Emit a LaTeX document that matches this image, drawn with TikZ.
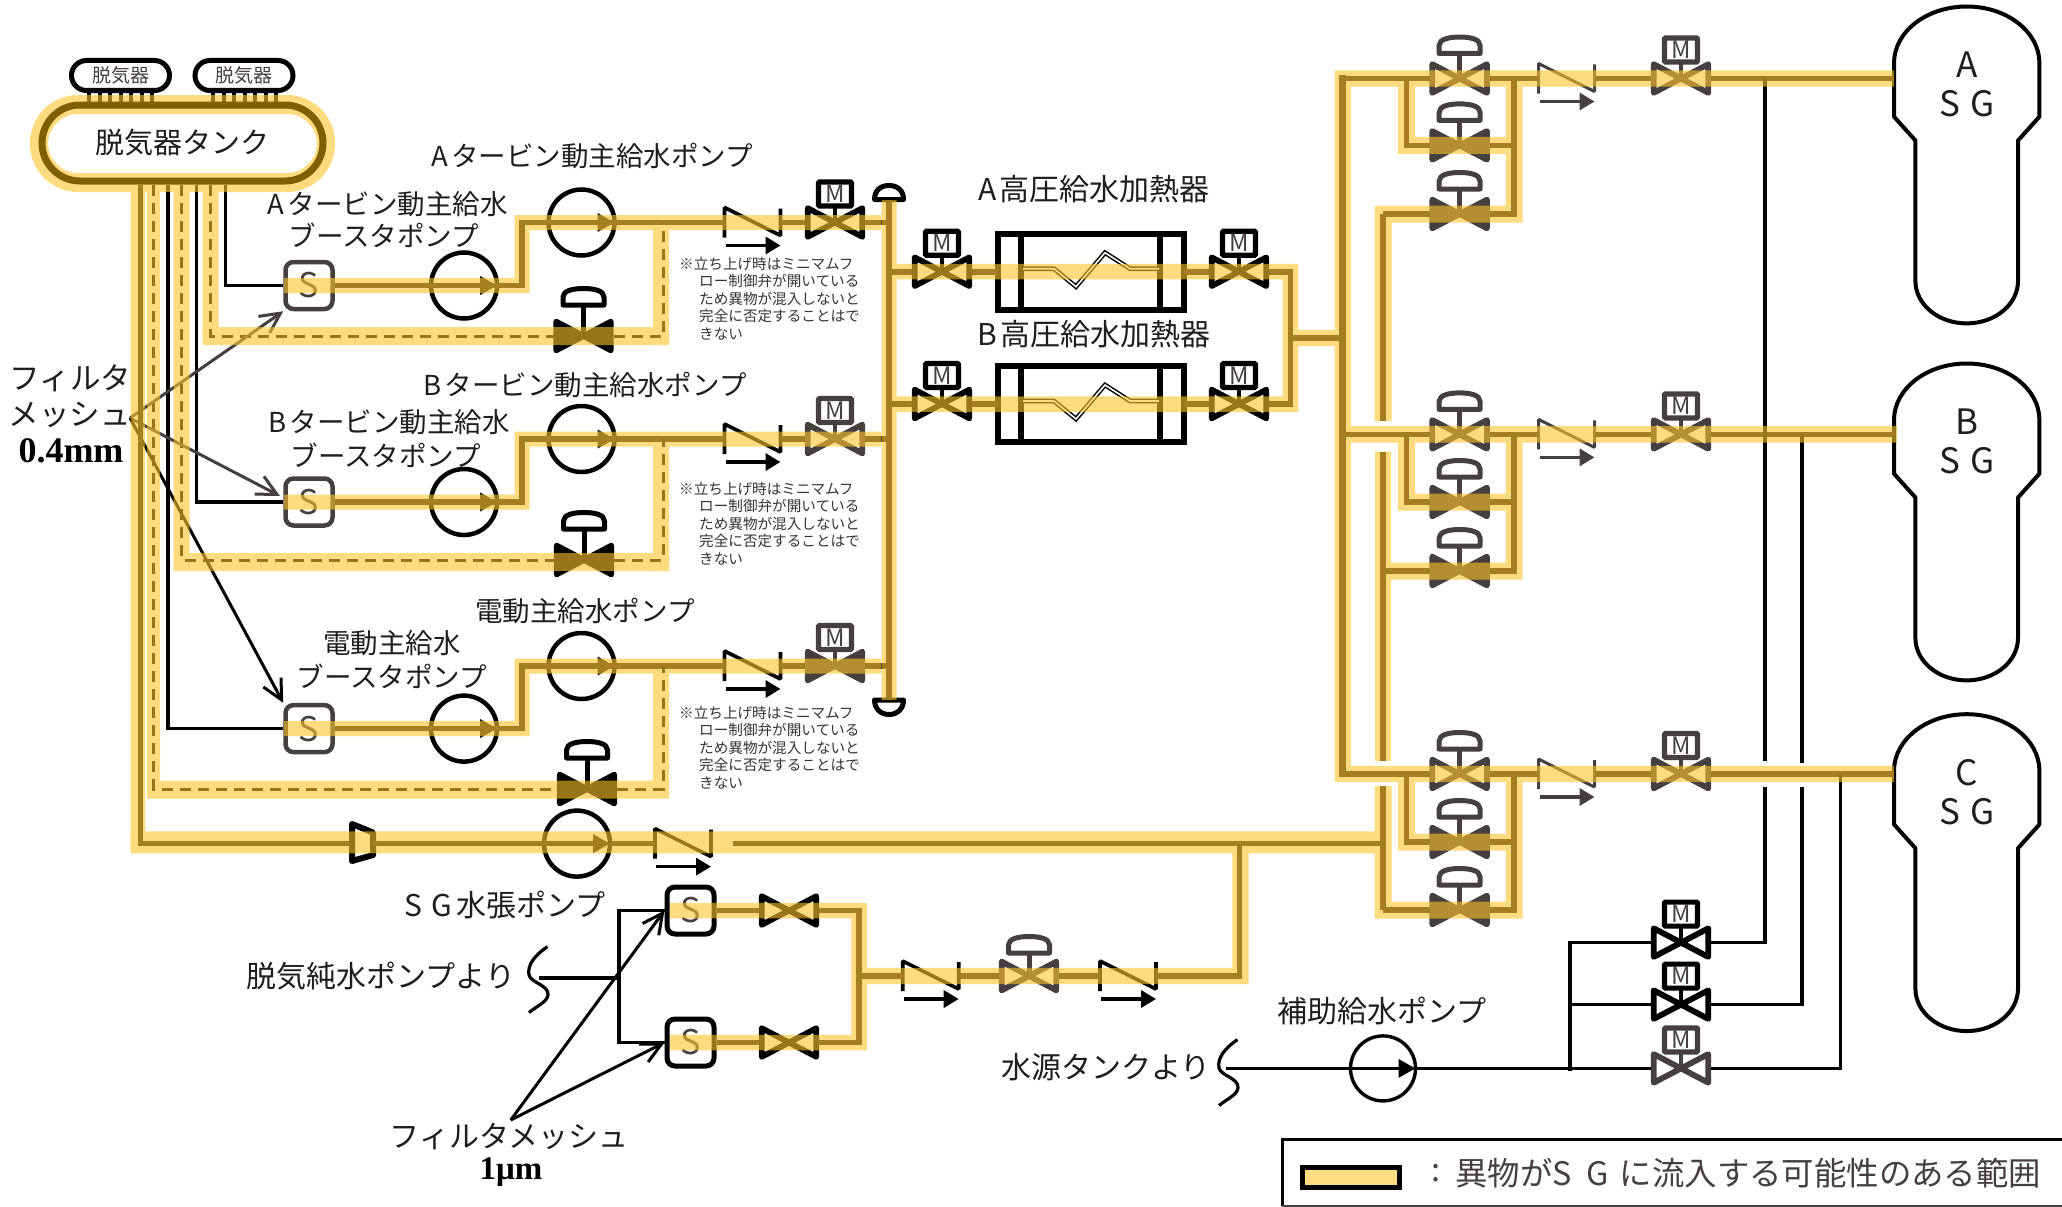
\documentclass[tikz,border=0pt]{standalone}
\usepackage{fontspec}
\setmainfont{Noto Sans CJK JP}
\newfontfamily\serifbold{Liberation Serif}
\usetikzlibrary{arrows.meta,calc}
\definecolor{gr}{HTML}{463F3F}
\definecolor{bandy}{HTML}{FFC32A}
\definecolor{swatchy}{HTML}{FFDC7F}
\definecolor{txt}{HTML}{1E1E1E}
\definecolor{pipec}{HTML}{201B0F}
\definecolor{tankc}{HTML}{7F6000}
\tikzset{
 x=1pt,y=-1pt,
 pipe/.style={line width=5.6,draw=pipec,line cap=butt},
 thinpipe/.style={line width=3.6,draw=black},
 dashpipe/.style={line width=3,draw=black,dash pattern=on 11pt off 7pt},
 band/.style={draw=bandy,line width=16.4,line join=miter},
 lab/.style={font=\fontsize{27.5}{30}\selectfont,text=txt,inner sep=0},
 labb/.style={font=\fontsize{30}{32}\selectfont,text=txt,inner sep=0},
 notetxt/.style={font=\fontsize{14.6}{17.5}\selectfont,text=black!80,inner sep=0,align=left,anchor=north west},
 spump/.style={draw=#1,rounded corners=8pt,fill=white,line width=4.5,minimum width=47,minimum height=47,inner sep=0,text=gr,font=\fontsize{34}{34}\selectfont},
 pumpc/.style={circle,draw=black,line width=4.5,minimum size=66,inner sep=0,outer sep=0},
 anch/.style={inner sep=0,outer sep=0,minimum width=#1,minimum height=1},
 tri/.style={-{Triangle[length=17pt,width=18pt]}},
 trismall/.style={-{Triangle[length=15pt,width=17pt]}},
 barb/.style={-{Straight Barb[length=20pt,width=20pt]},line width=3},
 hx/.style={draw=black,line width=6,minimum width=186,minimum height=76,inner sep=0,outer sep=0},
 sgtxt/.style={font=\fontsize{35}{35}\selectfont,text=txt,inner sep=0},
}
% valve: name,x,y,colour,fill
\newcommand\vbody[5]{%
 \node[anch=60] (#1) at (#2,#3) {};
 \begin{scope}[shift={(#2,#3)}]
 \draw[line width=5.8,line join=round,draw=#4,fill=#5] (-27.3,-14.3) -- (-27.3,14.3) -- (0,0) -- cycle;
 \draw[line width=5.8,line join=round,draw=#4,fill=#5] (27.3,-14.3) -- (27.3,14.3) -- (0,0) -- cycle;
 \end{scope}}
\newcommand\vM[5]{\vbody{#1}{#2}{#3}{#4}{#5}%
 \begin{scope}[shift={(#2,#3)}]
 \draw[line width=4.5,draw=#4] (0,0) -- (0,-18);
 \draw[line width=5.2,draw=#4,fill=white,rounded corners=1pt] (-16.5,-40.5) rectangle (16.5,-16.5);
 \node[inner sep=0,text=gr,font=\fontsize{24}{24}\selectfont] (#1M) at (0,-28.5) {M};
 \end{scope}}
\newcommand\vD[6]{\vbody{#1}{#2}{#3}{#4}{#5}%
 \begin{scope}[shift={(#2,#3)}]
 \draw[line width=5,draw=#4] (0,0) -- (0,-#6+19);
 \draw[line width=5,draw=#4,fill=white,line join=round] (-20.5,-#6+19) -- (20.5,-#6+19) -- (20.5,-#6+11) .. controls (20.5,-#6+4.5) and (10,-#6+2.5) .. (0,-#6+2.5) .. controls (-10,-#6+2.5) and (-20.5,-#6+4.5) .. (-20.5,-#6+11) -- cycle;
 \end{scope}}
% check valve: name,x,y,colour,width of stroke
\newcommand\cv[5]{%
 \node[anch=56] (#1) at (#2,#3) {};
 \begin{scope}[shift={(#2,#3)}]
 \draw[line width=#5,draw=#4,line join=bevel] (-28,15) -- (-28,-15) -- (28,13) -- (28,-14);
 \draw[trismall,line width=3.6,draw=#4,fill=#4] (-27,23) -- (28,23);
 \end{scope}}
% feed rows
\newcommand\feedrow[9]{% tag,yup,ylow,ybypass,xdash,xblack,xbp,Mcol,closed/open fill
 \node[spump=gr] (s#1) at (309,#3) {S};
 \node[pumpc] (pl#1) at (464,#3) {};
 \node[pumpc] (pu#1) at (581.5,#2) {};
 \coordinate (bl#1) at (522,#3);
 \coordinate (bu#1) at (522,#2);
 \cv{cv#1}{752.5}{#2}{black}{3.6}
 \vM{vm#1}{835}{#2}{#8}{#9}
 \vD{vb#1}{#7}{#4}{black}{black}{50}
 \coordinate (td#1) at (#5,185);
 \coordinate (tk#1) at (#6,185);
 \coordinate (jd#1) at (663,#2);
 \coordinate (jh#1) at (889,#2);
 \draw[pipe] (s#1.east) -- (bl#1);
 \draw[pipe,tri] (s#1.east) -- (pl#1.east);
 \draw[pipe] (pl#1.east) -- (bl#1) -- (bu#1) -- (pu#1.east);
 \draw[pipe,tri] (bu#1) -- (pu#1.east);
 \draw[pipe] (pu#1.east) -- (cv#1.west);
 \draw[pipe] (cv#1.east) -- (vm#1.west);
 \draw[pipe] (vm#1.east) -- (jh#1);
 \draw[thinpipe] (tk#1) |- (s#1.west);
 \draw[dashpipe] (td#1) |- (vb#1.west);
 \draw[dashpipe] (vb#1.east) -| (jd#1);
}
\newcommand\feedband[6]{% yup,ylow,ybypass,xdash,wdash,tag
 \draw[band,line width=15] (284,#2) -| (522,#1) -- (881,#1);
 \draw[band,line width=#5] (#4,190) -- (#4,#3);
 \draw[band,line width=18] ($(#4,#3)-(#5/2,0)$) -- (661,#3);
 \draw[band,line width=16] (661,#3+9) -- (661,#1+7);
}
% heater row
\newcommand\hxrow[2]{% tag,y
 \node[hx] (hx#1) at (1091,#2) {};
 \vM{vhl#1}{942}{#2}{black}{white}
 \vM{vhr#1}{1239}{#2}{black}{white}
 \coordinate (jhx#1) at (889,#2);
 \begin{scope}[shift={(0,#2)}]
 \draw[line width=6] (1020.5,-38) -- (1020.5,38);
 \draw[line width=6] (1160,-38) -- (1160,38);
 \draw[line width=4.6,line join=miter] (1023,-3) -- (1054,-3) -- (1076,15) -- (1105,-19) -- (1130,-3) -- (1159,-3);
 \draw[line width=1.6,white,line join=miter] (1023,-3) -- (1054,-3) -- (1076,15) -- (1105,-19) -- (1130,-3) -- (1159,-3);
 \end{scope}
 \draw[pipe] (jhx#1) -- (vhl#1.west);
 \draw[pipe] (vhl#1.east) -- (hx#1.west);
 \draw[pipe] (hx#1.east) -- (vhr#1.west);
 \draw[pipe] (vhr#1.east) -| (jhb);
}
% SG vessel
\newcommand\sgvessel[4]{% tag,dy,letter,yrow
 \begin{scope}[shift={(0,#2)}]
 \draw[line width=4,line join=round] (1894,116.7) -- (1894,63) arc[start angle=180,end angle=360,x radius=72.7,y radius=56.5] -- (2039.4,116.7) -- (2018,140.5) -- (2018,281) arc[start angle=0,end angle=180,x radius=51.3,y radius=42.4] -- (1915.4,140.5) -- cycle;
 \node[sgtxt] (sgl#1) at (1967,65) {#3};
 \node[sgtxt] (sgn#1) at (1967,104) {S\hspace{.3em}G};
 \end{scope}
 \coordinate (sg#1) at (1894,#4);
}
% SG branch
\newcommand\sgrow[5]{% tag,y1,y2,y3,Mfill
 \vD{va#1}{1459.6}{#2}{gr}{white}{44}
 \vD{vc#1}{1459.6}{#3}{gr}{gr}{44}
 \vD{vd#1}{1459.6}{#4}{gr}{gr}{44}
 \cv{cvr#1}{1566.5}{#2}{gr}{3}
 \vM{vmr#1}{1681}{#2}{gr}{#5}
 \coordinate (jl#1) at (1406.6,#2);
 \coordinate (jr#1) at (1514,#2);
 \coordinate (jm#1) at (1342.7,#2);
 \coordinate (js#1) at (1383,#4);
 \draw[pipe] (jm#1) -- (va#1.west);
 \draw[pipe] (va#1.east) -- (cvr#1.west);
 \draw[pipe] (cvr#1.east) -- (vmr#1.west);
 \draw[pipe] (vmr#1.east) -- (sg#1);
 \draw[pipe,line cap=butt] (jl#1) |- (vc#1.west);
 \draw[pipe] (jr#1) |- (vc#1.east);
 \draw[pipe] (jr#1) |- (vd#1.east);
 \draw[pipe] (js#1) -- (vd#1.west);
}
\begin{document}
\begin{tikzpicture}
\useasboundingbox (0,0) rectangle (2062,1207);
% ---- deaerator tank
\node[draw=black,fill=white,line width=5,rounded corners=15pt,minimum width=98,minimum height=30,inner sep=0,font=\fontsize{19}{19}\selectfont,text=gr] (da1) at (120.5,75.5) {脱気器};
\node[draw=black,fill=white,line width=5,rounded corners=15pt,minimum width=98,minimum height=30,inner sep=0,font=\fontsize{19}{19}\selectfont,text=gr] (da2) at (244,75.5) {脱気器};
\foreach \tx in {0,10.5,...,63} {
 \draw[line width=4] (89+\tx,93) -- (89+\tx,103);
 \draw[line width=4] (213+\tx,93) -- (213+\tx,103);
}
\node[fill=white,rounded corners=38pt,minimum width=281,minimum height=76,inner sep=0,outer sep=0] (tank) at (182.5,143) {};
\node[lab,font=\fontsize{29}{30}\selectfont] (tanklab) at (182,143) {脱気器タンク};
% ---- header
\node[anch=1] (hdrT) at (889,200) {};
\node[anch=1] (hdrB) at (889,700) {};
\draw[line width=5,fill=white,line join=round] (874.5,199.5) .. controls (874.5,190) and (881,185.5) .. (889,185.5) .. controls (897,185.5) and (903.5,190) .. (903.5,199.5) -- cycle;
\draw[line width=5,fill=white,line join=round] (874.5,700) .. controls (874.5,709) and (881,714.5) .. (889,714.5) .. controls (897,714.5) and (903.5,709) .. (903.5,700) -- cycle;
\draw[pipe,line width=6.6] (hdrT) -- (hdrB);
% ---- feed rows
\feedrow{A}{222.5}{285.5}{336}{210.7}{225.5}{583.5}{black}{white}
\feedrow{B}{439}{502}{560}{181.7}{196.4}{584}{gr}{white}
\feedrow{C}{666}{728.6}{789}{153.6}{168}{587}{gr}{gr}
% ---- notes
\node[notetxt] (noteA) at (679,257) {※立ち上げ時はミニマムフ\\\hspace{20pt}ロー制御弁が開いている\\\hspace{20pt}ため異物が混入しないと\\\hspace{20pt}完全に否定することはで\\\hspace{20pt}きない};
\node[notetxt] (noteB) at (679,482) {※立ち上げ時はミニマムフ\\\hspace{20pt}ロー制御弁が開いている\\\hspace{20pt}ため異物が混入しないと\\\hspace{20pt}完全に否定することはで\\\hspace{20pt}きない};
\node[notetxt] (noteC) at (679,706) {※立ち上げ時はミニマムフ\\\hspace{20pt}ロー制御弁が開いている\\\hspace{20pt}ため異物が混入しないと\\\hspace{20pt}完全に否定することはで\\\hspace{20pt}きない};
% ---- labels feed
\node[lab] (lpA) at (592,155.5) {A\hspace{.12em}タービン動主給水ポンプ};
\node[lab] (lbA1) at (388,204) {A\hspace{.12em}タービン動主給水};
\node[lab] (lbA2) at (384,235) {ブースタポンプ};
\node[lab] (lpB) at (585,384.5) {B\hspace{.12em}タービン動主給水ポンプ};
\node[lab] (lbB1) at (389,422) {B\hspace{.12em}タービン動主給水};
\node[lab] (lbB2) at (386,455) {ブースタポンプ};
\node[lab] (lpC) at (585,610.5) {電動主給水ポンプ};
\node[lab] (lbC1) at (392,643.5) {電動主給水};
\node[lab] (lbC2) at (392,676) {ブースタポンプ};
\node[labb,font=\fontsize{30.5}{32}\selectfont] (lfa) at (70.5,378) {フィルタ};
\node[labb,font=\fontsize{30.5}{32}\selectfont] (lfb) at (70,415) {メッシュ};
\node[inner sep=0,font=\fontsize{36}{36}\selectfont\serifbold\bfseries] (lfc) at (71,451) {0.4mm};
% ---- filter arrows 0.4
\coordinate (filA) at (130,418);
\draw[barb,draw=gr] (filA) -- (sA.south west);
\draw[barb,draw=gr] (filA) -- (280,496);
\draw[barb,draw=black] (filA) -- (sC.north west);
% ---- heaters
\coordinate (jhb) at (1290.6,338);
\coordinate (jmid) at (1342.7,338);
\hxrow{A}{271.7}
\hxrow{B}{404}
\draw[pipe] (jhb) -- (jmid);
\node[labb] (lhA) at (1094,189) {A\hspace{.12em}高圧給水加熱器};
\node[labb] (lhB) at (1094,334) {B\hspace{.12em}高圧給水加熱器};
% ---- SGs
\sgvessel{A}{0}{A}{78.5}
\sgvessel{B}{357}{B}{434.4}
\sgvessel{C}{707.7}{C}{774}
% ---- SG branches
\sgrow{A}{78.5}{145.4}{214}{white}
\sgrow{B}{434.4}{502}{571}{white}
\sgrow{C}{774}{842}{910}{white}
\draw[pipe,line width=6.6] (1342.7,75.4) -- (jmC) -- ++(3,0);
\draw[pipe] (jsA) -- (1383,421);
\draw[pipe] (1383,451.6) -- (1383,761);
\draw[pipe] (1383,786) -- (jsC);
% ---- SG fill line
\coordinate (redL) at (352,843.6);
\coordinate (redR) at (373,843.6);
\coordinate (tf) at (140.6,185);
\node[pumpc] (pF) at (577,843.6) {};
\cv{cvF}{683}{843.6}{black}{3.6}
\coordinate (jgap) at (732.7,843.6);
\coordinate (jF) at (1239.6,843.6);
\coordinate (jmain2) at (1383,843.6);
\draw[pipec,line width=4.5] (tf) |- (redL);
\draw[line width=6,fill=white,line join=round] (352,824) -- (373,832.5) -- (373,855) -- (352,861) -- cycle;
\draw[pipe,tri] (redR) -- (pF.east);
\draw[pipec,line width=5] (pF.east) -- (cvF.west);
\draw[pipec,line width=5] (jgap) -- (jmain2);
\node[labb] (lpF) at (505,905) {S\hspace{.32em}G\hspace{.15em}水張ポンプ};
% ---- make-up supply
\node[spump=black,line width=5] (sU) at (690.5,910.5) {S};
\node[spump=black,line width=5] (sL) at (690.5,1042.5) {S};
\vbody{vU}{789}{910.5}{black}{white}
\vbody{vL}{789}{1042.5}{black}{white}
\coordinate (jS) at (859,976);
\cv{cvSa}{930.7}{976}{black}{3.6}
\vD{vS}{1029}{976}{gr}{white}{42}
\cv{cvSb}{1128}{976}{black}{3.6}
\draw[pipe] (sU.east) -- (vU.west);
\draw[pipe] (sL.east) -- (vL.west);
\draw[pipe] (vU.east) -| (jS);
\draw[pipe] (vL.east) -| (jS);
\draw[pipe] (jS) -- (cvSa.west);
\draw[pipe] (cvSa.east) -- (vS.west);
\draw[pipe] (vS.east) -- (cvSb.west);
\draw[pipe] (cvSb.east) -| (jF);
% feed from demin pump
\draw[line width=3.2] (547.5,946.6) .. controls (535,955) and (527,965) .. (529,975) .. controls (531,983) and (549,985) .. (548,995) .. controls (547,1002) and (537,1006) .. (529,1012.5);
\coordinate (waveF) at (539,977.7);
\coordinate (jW) at (619,977.7);
\draw[thinpipe] (waveF) -- (jW);
\draw[thinpipe] (jW) |- (sU.west);
\draw[thinpipe] (jW) |- (sL.west);
\node[labb] (lW) at (381,976) {脱気純水ポンプより};
\coordinate (filB) at (510.7,1120);
\draw[barb] (filB) -- (sU.west);
\draw[barb] (filB) -- (sL.west);
\node[labb] (lfm) at (509,1136) {フィルタメッシュ};
\node[inner sep=0,font=\fontsize{33}{33}\selectfont\serifbold\bfseries] (lfu) at (511,1172) {1μm};
% ---- auxiliary feed
\draw[line width=3.2] (1237.5,1039.6) .. controls (1225,1048) and (1217,1058) .. (1219,1068) .. controls (1221,1076) and (1239,1078) .. (1238,1088) .. controls (1237,1095) and (1227,1099) .. (1219,1105.5);
\coordinate (waveW) at (1226,1068.4);
\node[pumpc,line width=3.4,minimum size=65] (pW) at (1383,1068.4) {};
\coordinate (jAb) at (1570,1068.4);
\coordinate (jAt) at (1570,942.6);
\coordinate (jAm) at (1570,1004.6);
\vM{vxA}{1681}{942.6}{black}{white}
\vM{vxB}{1681}{1004.6}{black}{white}
\vM{vxC}{1681}{1068.4}{gr}{white}
\draw[thinpipe,tri] (waveW) -- (pW.east);
\draw[thinpipe] (pW.east) -- (vxC.west);
\draw[thinpipe] (jAb) ++(0,3) -- (jAt) -- (vxA.west);
\draw[thinpipe] (jAm) -- (vxB.west);
\draw[thinpipe] (vxA.east) -| (1765,787);
\draw[thinpipe] (1765,760.7) -- (1765,78.5);
\draw[thinpipe] (vxB.east) -| (1802,787);
\draw[thinpipe] (1802,762.6) -- (1802,434.4);
\draw[thinpipe] (vxC.east) -| (1840.6,774);
\node[labb] (lpW) at (1382,1011) {補助給水ポンプ};
\node[labb] (lWs) at (1106,1067) {水源タンクより};
% ---- yellow overlay
\begin{scope}[transparency group,opacity=.6]
 \fill[bandy,even odd rule,rounded corners=48pt] (30,95) rectangle (335,192) [rounded corners=30pt] (48,114) rectangle (317,173);
 \feedband{222.5}{285.5}{336}{210.7}{16}{A}
 \feedband{439}{502}{562}{181.7}{16}{B}
 \feedband{666}{728.6}{789.5}{153.6}{13}{C}
 \draw[band,line width=15] (889,200) -- (889,700);
 \draw[band,line width=15.5] (893,271.7) -- (1290.6,271.7) -- (1290.6,404) -- (893,404);
 \draw[band] (1290.6,338) -- (1342.7,338);
 % fill line
 \draw[band,line width=14.5] (137.8,190) -- (137.8,845);
 \draw[band,line width=22] (130.5,842.3) -- (1383,842.3);
 % rows
 \draw[band] (1894,78.5) -- (1342.7,78.5) -- (1342.7,774) -- (1894,774);
 \draw[band] (1348,434.4) -- (1897,434.4);
 \draw[band,line width=17] (1406.6,78.5) |- (1514,145.4);
 \draw[band,line width=17] (1514,78.5) |- (1383,214) -- (1383,421);
 \draw[band,line width=17] (1406.6,434.4) |- (1514,502);
 \draw[band,line width=17] (1514,434.4) |- (1390,571);
 \draw[band,line width=16] (1383,451.6) -- (1383,761);
 \draw[band,line width=17] (1406.6,774) |- (1514,842);
 \draw[band,line width=17] (1514,774) |- (1383,910) -- (1383,786);
 % make-up
 \draw[band,line width=15.5] (670,910.5) -- (859,910.5) -- (859,1042.5) -- (670,1042.5);
 \draw[band] (859,976) -- (1240.5,976) -- (1240.5,850);
\end{scope}
% tank shell over the band
\draw[tankc,line width=7,rounded corners=38pt] (tank.north west) rectangle (tank.south east);
% ---- legend
\draw[line width=3] (2062,1139) -- (1282,1139) -- (1282,1205.5);
\draw[line width=2,draw=gr] (1282,1205.5) -- (2062,1205.5);
\node[draw=black,fill=swatchy,line width=5.5,minimum width=97,minimum height=20,inner sep=0] (swatch) at (1351,1177.5) {};
\node[lab,font=\fontsize{32.4}{32}\selectfont,text=gr,anchor=west] (legc) at (1431,1173) {:};
\node[lab,font=\fontsize{32.4}{32}\selectfont,text=gr,anchor=west] (legt) at (1455,1173) {異物がS\hspace{.45em}G\hspace{.35em}に流入する可能性のある範囲};
\end{tikzpicture}
\end{document}
